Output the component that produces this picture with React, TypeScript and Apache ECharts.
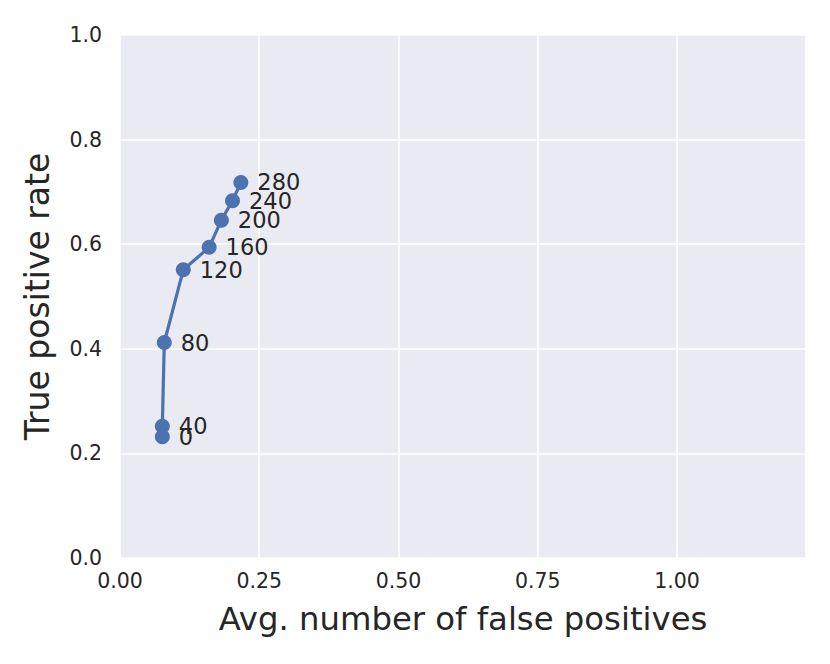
import React, { useEffect, useRef } from "react";
import * as echarts from "echarts";

const thresholds = ["0", "40", "80", "120", "160", "200", "240", "280"];
const falsePositives = [0.076, 0.076, 0.0795, 0.1136, 0.16, 0.182, 0.202, 0.217];
const truePositiveRate = [0.232, 0.252, 0.412, 0.551, 0.594, 0.646, 0.683, 0.718];
const xTicks = [0, 0.25, 0.5, 0.75, 1.0];
const yTicks = [0, 0.2, 0.4, 0.6, 0.8, 1.0];

const FONT = "DejaVu Sans";
const TEXT = "#262626";

export default function App() {
  const ref = useRef<HTMLDivElement>(null);
  useEffect(() => {
    if (!ref.current) return;
    const chart = echarts.init(ref.current, null, { renderer: "svg" });
    const data = falsePositives.map((x, i) => [x, truePositiveRate[i]]);
    chart.setOption({
      animation: false,
      backgroundColor: "#ffffff",
      textStyle: { fontFamily: FONT },
      grid: {
        left: 120,
        right: 24,
        top: 35,
        bottom: 106,
        show: true,
        backgroundColor: "#EAEAF2",
        borderWidth: 0,
      },
      xAxis: {
        type: "value",
        min: 0,
        max: 1.2316,
        interval: 0.25,
        name: "Avg. number of false positives",
        nameLocation: "middle",
        nameGap: 45,
        nameTextStyle: { fontFamily: FONT, fontSize: 32.3, color: TEXT },
        axisLine: { show: false },
        axisTick: { show: false },
        axisLabel: {
          fontFamily: FONT,
          fontSize: 20.5,
          color: TEXT,
          margin: 12,
          formatter: (v: number) =>
            xTicks.some((t) => Math.abs(t - v) < 1e-6) ? v.toFixed(2) : "",
        },
        splitLine: { show: true, lineStyle: { color: "#ffffff", width: 1.6 } },
      },
      yAxis: {
        type: "value",
        min: 0,
        max: 1,
        interval: 0.2,
        name: "True positive rate",
        nameLocation: "middle",
        nameGap: 66,
        nameTextStyle: { fontFamily: FONT, fontSize: 33, color: TEXT },
        axisLine: { show: false },
        axisTick: { show: false },
        axisLabel: {
          fontFamily: FONT,
          fontSize: 20.5,
          color: TEXT,
          margin: 18,
          formatter: (v: number) =>
            yTicks.some((t) => Math.abs(t - v) < 1e-6) ? v.toFixed(1) : "",
        },
        splitLine: { show: true, lineStyle: { color: "#ffffff", width: 1.6 } },
      },
      series: [
        {
          type: "line",
          data,
          symbol: "circle",
          symbolSize: 15,
          itemStyle: { color: "#4C72B0" },
          lineStyle: { color: "#4C72B0", width: 3.2 },
          label: {
            show: true,
            position: "right",
            distance: 9,
            offset: [0, 4],
            fontFamily: FONT,
            fontSize: 22.5,
            color: TEXT,
            formatter: (p: any) => thresholds[p.dataIndex],
          },
          labelLayout: { hideOverlap: false },
          z: 3,
        },
      ],
    });
    return () => chart.dispose();
  }, []);
  return <div ref={ref} style={{ width: 830, height: 664, position: "absolute", left: 0, top: 0 }} />;
}
